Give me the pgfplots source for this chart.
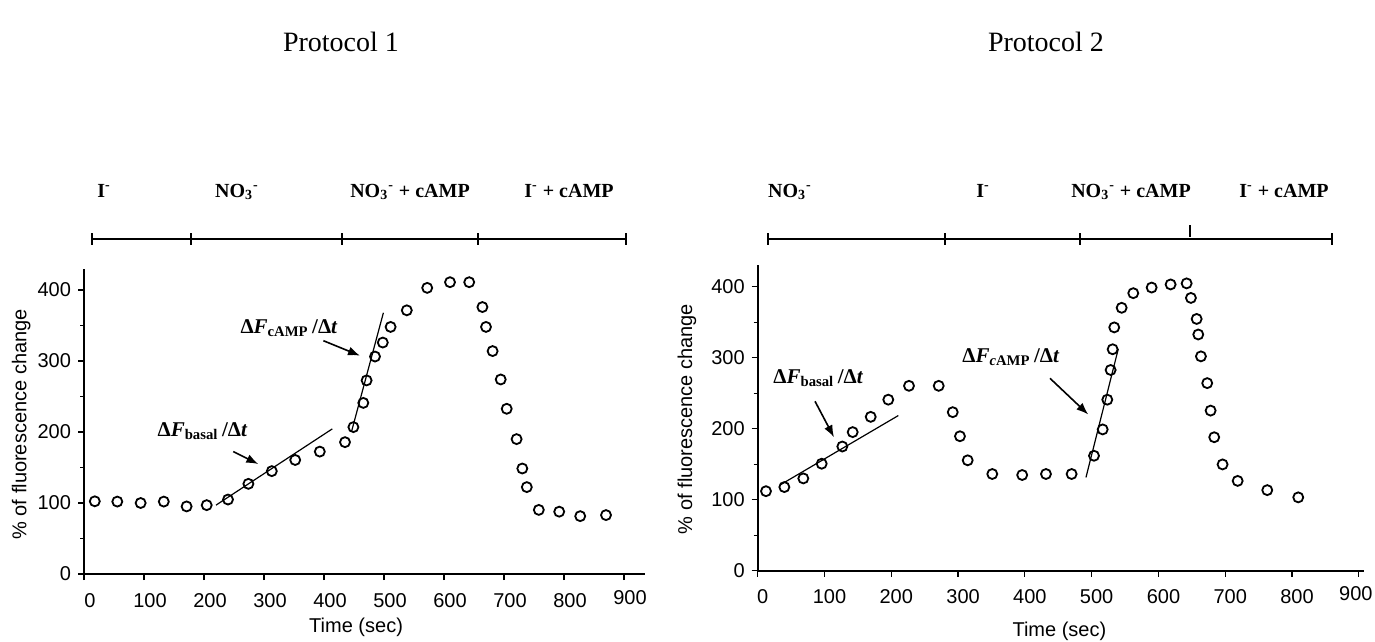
\documentclass[border=0pt]{standalone}
\usepackage{pgfplots}
\pgfplotsset{compat=1.18}
\usepackage{pgfplotstable}
\usepackage{fontspec}
\setmainfont{Liberation Serif}
\newfontfamily\arial{Liberation Sans}
\usetikzlibrary{arrows.meta}

\pgfplotstableread{
t v
18 102.4
55.5 102
94.4 100
133 102
171 95.2
204.5 97
240 104.9
274 127
313 144.9
352 160.6
393 172.4
435 185.7
449 206.9
465.5 241
471 272.7
485 306.3
498 326
511 348
538 371.4
572 403
610 411
642 411
664 376
670 348
681 314
694.5 274
704.5 232.7
721 190
730.5 148.6
738 122.4
758 90.3
792 87.8
827 81.5
870 83
}\protoA

\pgfplotstableread{
t v
12.4 112
39.9 117.8
68.3 130
95.8 150.7
126.7 174.9
142.2 195.2
169.2 216.7
195.5 240.9
226.5 260.4
271 260.4
292 223.3
302.8 189.4
314.4 155.5
351.2 136.2
396 134.8
431.6 136.2
470 136.2
503.5 161.9
516.5 199
523.4 240.9
528.4 282.7
531.4 311.9
533.8 342.7
544.9 370.3
562.3 390.9
589.8 398.8
618.2 403.2
642.2 404.7
648.6 384.2
657.2 354.6
659.6 332.7
663.6 301.9
673 264.2
678.1 225.5
683.5 188
696 149.7
718.6 126.5
762.9 113.5
809.3 103.3
}\protoB

\tikzset{
  arr/.style={-{Latex[length=6pt,width=4.5pt]}, line width=0.8pt},
  ann/.style={font=\bfseries\fontsize{10.5}{12}\selectfont},
}

\pgfplotsset{
  myax/.style={
    scale only axis,
    clip=false,
    axis x line*=bottom, axis y line*=left,
    axis line style={-, line width=0.8pt},
    x axis line style={-}, y axis line style={-},
    ymin=0, ymax=430,
    height=152.65pt,
    xmin=0,
    xtick={0,100,...,800},
    extra x ticks={900},
    ytick={0,100,...,400},
    minor ytick={50,150,250,350},
    tick align=outside,
    major tick length=3pt, minor tick length=2pt,
    tick style={line width=0.6pt, black},
    /pgf/number format/assume math mode=true,
    tick label style={font=\arial\fontsize{10}{12}\selectfont},
    label style={font=\arial\fontsize{10}{12}\selectfont},
    xlabel={Time (sec)},
    ylabel={\% of fluorescence change},
  },
  pts/.style={only marks, mark=o, mark size=2.5pt, mark options={line width=0.9pt, black}},
  fit/.style={no marks, line width=0.6pt, black},
}

\begin{document}
\begin{tikzpicture}
\useasboundingbox (0,0) rectangle (687.5pt,-321pt);

% ---------- Protocol 1 ----------
\begin{axis}[myax,
  at={(42pt,-287pt)}, anchor=south west,
  xmax=935, width=280.5pt,
  xticklabel style={yshift=-3pt, xshift=3pt},
  extra x tick style={xticklabel style={yshift=1.5pt}},
  xlabel style={at={(axis description cs:0.485,-0.174)}, anchor=center},
  ylabel style={at={(axis description cs:-0.112,0.49)}, anchor=center},
]
\addplot[pts] table[x=t,y=v] {\protoA};
\addplot[fit] coordinates {(220,97) (413.8,204.4)};
\addplot[fit] coordinates {(446,201) (499,368)};
\draw[arr] (axis cs:248.8,172.4) -- (axis cs:290.5,154.9);
\draw[arr] (axis cs:399,328.6) -- (axis cs:460,307.5);
\node[ann] at (axis cs:197.5,201) {Δ\textit{F}\textsubscript{basal}\,/Δ\textit{t}};
\node[ann] at (axis cs:341.7,346) {Δ\textit{F}\textsubscript{cAMP}\,/Δ\textit{t}};
\end{axis}

% ---------- Protocol 2 ----------
\begin{axis}[myax,
  at={(378.85pt,-285.35pt)}, anchor=south west,
  xmax=907, width=302.9pt,
  xticklabel style={yshift=-3pt, xshift=2.5pt},
  extra x tick style={xticklabel style={xshift=-4pt, yshift=1.5pt}},
  xlabel style={at={(axis description cs:0.498,-0.198)}, anchor=center},
  ylabel style={at={(axis description cs:-0.117,0.497)}, anchor=center},
]
\addplot[pts] table[x=t,y=v] {\protoB};
\addplot[fit] coordinates {(33.4,120.7) (210.5,218.5)};
\addplot[fit] coordinates {(491.5,131.4) (539.8,312.2)};
\draw[arr] (axis cs:85.8,238.6) -- (axis cs:114.2,188);
\draw[arr] (axis cs:437.6,271) -- (axis cs:494.9,220);
\node[ann] at (axis cs:90.7,271) {Δ\textit{F}\textsubscript{basal}\,/Δ\textit{t}};
\node[ann] at (axis cs:379,301) {Δ\textit{F}\textsubscript{\textit{c}AMP}\,/Δ\textit{t}};
\end{axis}

% ---------- titles, conditions, brackets ----------
\begin{scope}[x=0.5pt, y=-0.5pt]
\node[font=\fontsize{14}{16}\selectfont] at (341,42) {Protocol 1};
\node[font=\fontsize{14}{16}\selectfont] at (1046,42) {Protocol 2};

\begin{scope}[every node/.style={font=\bfseries\fontsize{10}{12}\selectfont, anchor=base}]
\node at (104,197) {I\textsuperscript{-}};
\node at (237,197) {NO\textsubscript{3}\textsuperscript{-}};
\node at (410,197) {NO\textsubscript{3}\textsuperscript{-} + cAMP};
\node at (569,197) {I\textsuperscript{-} + cAMP};
\node at (790,197) {NO\textsubscript{3}\textsuperscript{-}};
\node at (983,197) {I\textsuperscript{-}};
\node at (1131,197) {NO\textsubscript{3}\textsuperscript{-} + cAMP};
\node at (1284,197) {I\textsuperscript{-} + cAMP};
\end{scope}

\draw[line width=0.75pt] (92,239) -- (626,239);
\foreach \xx in {92,191,342,478,626} \draw[line width=0.75pt] (\xx,233) -- (\xx,245);
\draw[line width=0.75pt] (768,239) -- (1332,239);
\foreach \xx in {768,945,1080,1332} \draw[line width=0.75pt] (\xx,233) -- (\xx,245);
\draw[line width=0.75pt] (1190,225) -- (1190,237);
\end{scope}
\end{tikzpicture}
\end{document}
